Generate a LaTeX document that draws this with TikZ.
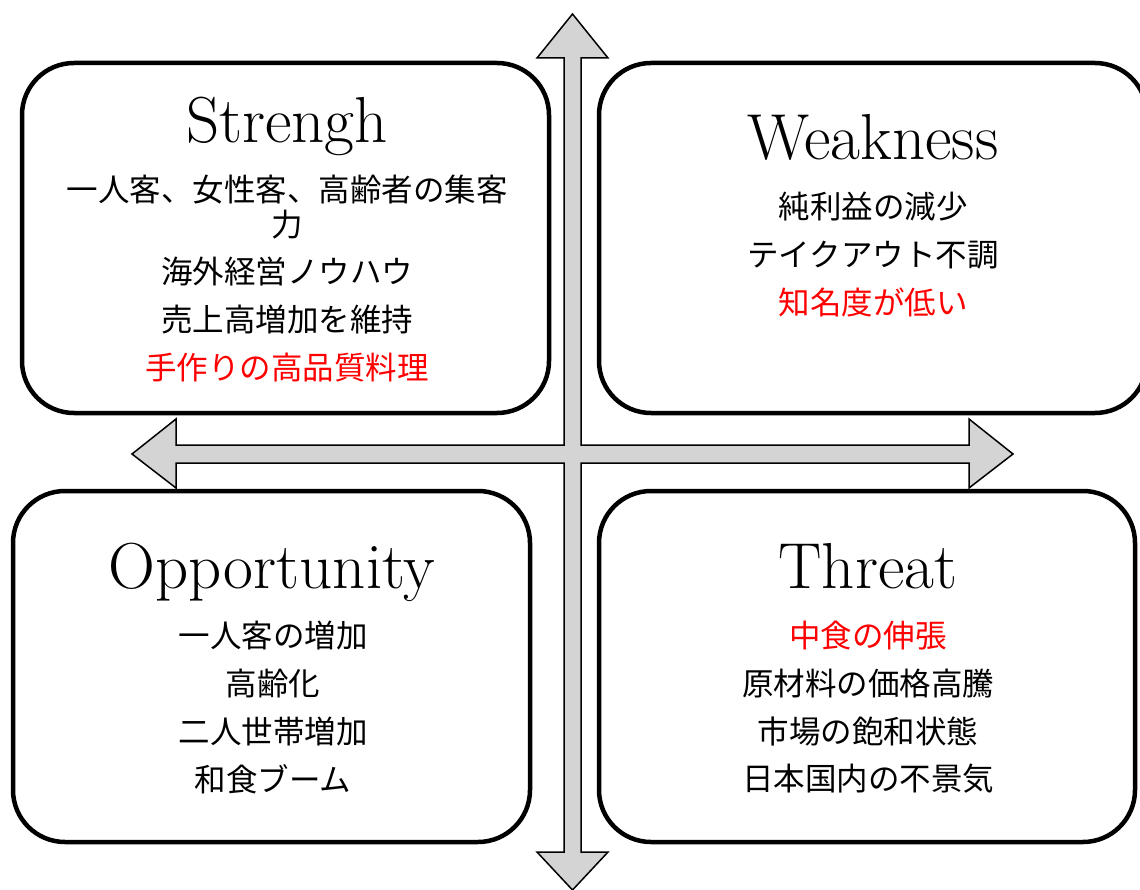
\documentclass[tikz,border=0pt]{standalone}
\usepackage{fontspec}
\newfontfamily\jp{Noto Sans CJK JP}
\definecolor{arrowgray}{HTML}{D4D4D4}
\definecolor{redtxt}{HTML}{FF0000}
\begin{document}
\begin{tikzpicture}[x=1pt,y=-1pt,
  quad/.style={draw=black, line width=4.5pt, rounded corners=52pt},
  ttl/.style={anchor=base, inner sep=0pt, font=\fontsize{65}{75}\selectfont},
  item/.style={anchor=center, inner sep=0pt, font=\jp\fontsize{31.5}{36}\selectfont},
  hot/.style={item, text=redtxt},
  crossarrow/.style={fill=arrowgray, draw=black, line width=1.5pt, line join=miter}]
\useasboundingbox (0,0) rectangle (1140,890);
% cross-shaped double arrows
\draw[crossarrow] (572.5,14) -- (608,58) -- (581,58) -- (581,445) -- (969,445) -- (969,419)
  -- (1013,454) -- (969,488) -- (969,463) -- (581,463) -- (581,852) -- (608,852)
  -- (572.5,890) -- (537,852) -- (564,852) -- (564,463) -- (176,463) -- (176,488)
  -- (132,454) -- (176,419) -- (176,445) -- (564,445) -- (564,58) -- (537,58) -- cycle;
% quadrant boxes
\draw[quad] (22,63) rectangle (549,413);
\draw[quad] (599,63) rectangle (1147,413);
\draw[quad] (13,491) rectangle (530,842);
\draw[quad] (599,491) rectangle (1135,842);
% Strength
\node[ttl] (st) at (287,143) {Strengh};
\node[item] (s1) at (287,190) {一人客、女性客、高齢者の集客};
\node[item] (s1b) at (287,225) {力};
\node[item] (s2) at (287,272) {海外経営ノウハウ};
\node[item] (s3) at (287,320) {売上高増加を維持};
\node[hot] (s4) at (287,368) {手作りの高品質料理};
% Weakness
\node[ttl] (wt) at (873,160) {Weakness};
\node[item] (w1) at (873,207) {純利益の減少};
\node[item] (w2) at (873,255) {テイクアウト不調};
\node[hot] (w3) at (873,302) {知名度が低い};
% Opportunity
\node[ttl] (ot) at (272,588) {Opportunity};
\node[item] (o1) at (273,636) {一人客の増加};
\node[item] (o2) at (273,684) {高齢化};
\node[item] (o3) at (273,732) {二人世帯増加};
\node[item] (o4) at (273,779) {和食ブーム};
% Threat
\node[ttl] (tt) at (868,588) {Threat};
\node[hot] (t1) at (868,636) {中食の伸張};
\node[item] (t2) at (868,684) {原材料の価格高騰};
\node[item] (t3) at (868,732) {市場の飽和状態};
\node[item] (t4) at (868,779) {日本国内の不景気};
\end{tikzpicture}
\end{document}
